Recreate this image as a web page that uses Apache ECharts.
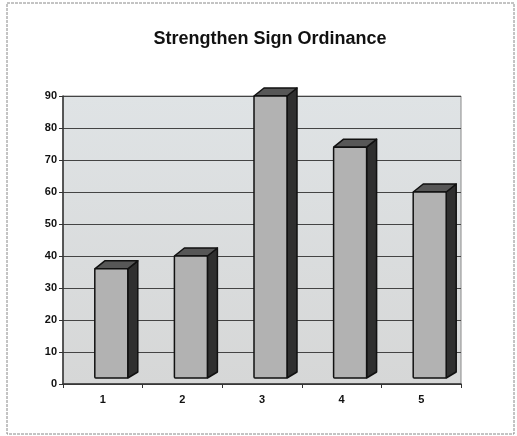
<!DOCTYPE html>
<html>
<head>
<meta charset="utf-8">
<script src="https://cdn.jsdelivr.net/npm/echarts@6/dist/echarts.min.js"></script>
<style>
  html, body { margin: 0; padding: 0; background: #fff; }
  #chart { width: 517px; height: 436px; }
</style>
</head>
<body>
<div id="chart"></div>
<script>
const categories = ['1', '2', '3', '4', '5']
const values = [36, 40, 90, 74, 60]
const yTicks = { min: 0, max: 90, interval: 10 }

const chart = echarts.init(document.getElementById('chart'))

// draws a box-like column: front face, top and right side
const renderBox = (params, api) => {
  const base = api.coord([api.value(0), 0])
  const top = api.coord([api.value(0), api.value(1)])
  const left = base[0] - 8
  const right = left + 33
  const bottom = base[1] - 6
  const t = top[1]
  const dx = 10
  const dy = 8
  const line = { stroke: '#111', lineWidth: 1.5, lineJoin: 'round' }
  return {
    type: 'group',
    children: [
      {
        type: 'polygon',
        shape: { points: [[right, t], [right + dx, t - dy], [right + dx, bottom - dy + 2], [right, bottom]] },
        style: Object.assign({ fill: '#2f2f2f' }, line),
      },
      {
        type: 'polygon',
        shape: { points: [[left, t], [right, t], [right + dx, t - dy], [left + dx, t - dy]] },
        style: Object.assign({ fill: '#575757' }, line),
      },
      {
        type: 'rect',
        shape: { x: left, y: t, width: right - left, height: bottom - t, r: 1 },
        style: Object.assign({ fill: '#b2b2b2' }, line),
      },
    ],
  }
}

const option = {
  backgroundColor: '#fff',
  animation: false,
  title: {
    text: 'Strengthen Sign Ordinance',
    left: 265,
    top: 25,
    textAlign: 'center',
    textStyle: {
      fontFamily: 'Liberation Sans, Arial, sans-serif',
      fontSize: 18,
      fontWeight: 'bold',
      color: '#111',
    },
  },
  grid: {
    left: 63,
    top: 96,
    width: 398,
    height: 288,
    show: true,
    backgroundColor: {
      type: 'linear', x: 0, y: 0, x2: 0, y2: 1,
      colorStops: [
        { offset: 0, color: '#dfe3e5' },
        { offset: 1, color: '#d6d7d7' },
      ],
    },
    borderColor: '#8a8a8a',
    borderWidth: 1,
  },
  xAxis: {
    type: 'category',
    data: categories,
    boundaryGap: true,
    axisLine: { lineStyle: { color: '#333', width: 1.5 } },
    axisTick: { show: true, length: 4, lineStyle: { color: '#333' } },
    axisLabel: {
      margin: 10,
      fontFamily: 'Liberation Sans, Arial, sans-serif',
      fontSize: 11,
      fontWeight: 'bold',
      color: '#111',
    },
  },
  yAxis: {
    type: 'value',
    min: yTicks.min,
    max: yTicks.max,
    interval: yTicks.interval,
    axisLine: { show: true, lineStyle: { color: '#333', width: 1.5 } },
    axisTick: { show: true, length: 4, lineStyle: { color: '#333' } },
    splitLine: { lineStyle: { color: '#444', width: 1 } },
    axisLabel: {
      margin: 6,
      fontFamily: 'Liberation Sans, Arial, sans-serif',
      fontSize: 11,
      fontWeight: 'bold',
      color: '#111',
    },
  },
  series: [
    {
      type: 'custom',
      renderItem: renderBox,
      clip: false,
      data: values.map((v, i) => [i, v]),
      encode: { x: 0, y: 1 },
    },
  ],
  graphic: [
    {
      type: 'rect',
      shape: { x: 7, y: 3, width: 507, height: 431 },
      style: { fill: 'none', stroke: '#888', lineWidth: 1, lineDash: [3, 1] },
      silent: true,
    },
  ],
}

chart.setOption(option)
</script>
</body>
</html>
